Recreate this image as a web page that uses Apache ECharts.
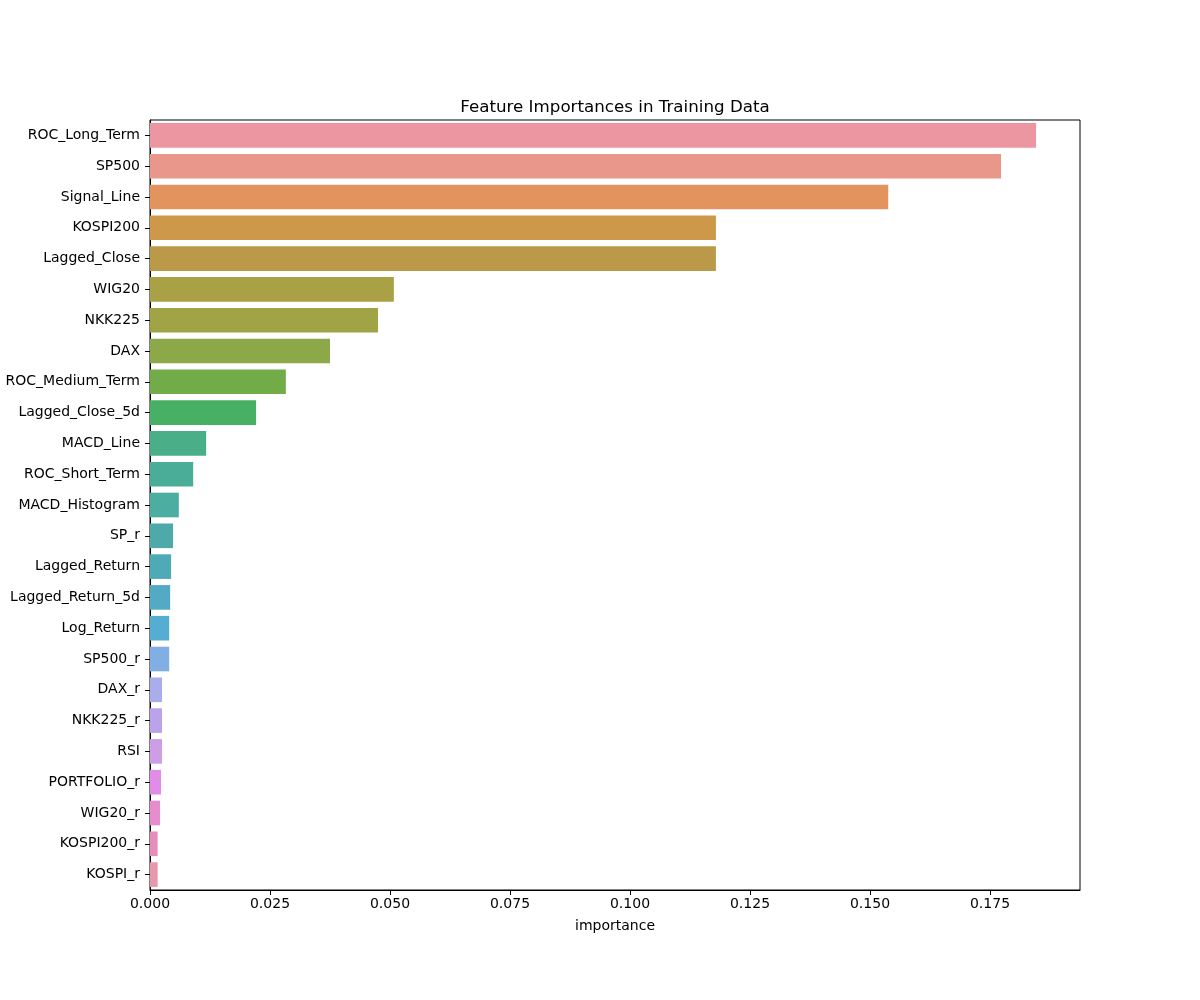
<!DOCTYPE html>
<html>
<head>
<meta charset="utf-8">
<script src="https://cdn.jsdelivr.net/npm/echarts@6/dist/echarts.min.js"></script>
<style>html,body{margin:0;padding:0;background:#fff;}#c{width:1200px;height:1000px;}</style>
</head>
<body>
<div id="c"></div>
<script>
var categories = ["ROC_Long_Term","SP500","Signal_Line","KOSPI200","Lagged_Close","WIG20","NKK225","DAX","ROC_Medium_Term","Lagged_Close_5d","MACD_Line","ROC_Short_Term","MACD_Histogram","SP_r","Lagged_Return","Lagged_Return_5d","Log_Return","SP500_r","DAX_r","NKK225_r","RSI","PORTFOLIO_r","WIG20_r","KOSPI200_r","KOSPI_r"];
var importance = [0.1846,0.1773,0.1538,0.1179,0.1179,0.0508,0.0475,0.0375,0.0283,0.0221,0.0117,0.0090,0.0060,0.0048,0.0044,0.0042,0.0040,0.0040,0.0025,0.0025,0.0025,0.0023,0.0021,0.0016,0.0016];
var colors = ["#eb96a1","#e8978a","#e3935e","#cd984a","#ba9a48","#aaa045","#a0a445","#8da848","#72ac48","#48b064","#4aae88","#4aad98","#4caea0","#4daaa8","#4eaab5","#52aac4","#56add3","#82afe3","#a9ade9","#baa3ea","#cd9ee6","#e18de8","#e68ccf","#e78dba","#e898ad"];
var xTicks = [0, 0.025, 0.05, 0.075, 0.1, 0.125, 0.15, 0.175];

var chart = echarts.init(document.getElementById('c'));
var font = 'DejaVu Sans';
chart.setOption({
  animation: false,
  title: {
    text: 'Feature Importances in Training Data',
    left: 610, top: 94, textAlign: 'center',
    textStyle: {fontFamily: font, fontSize: 16.7, fontWeight: 'normal', color: '#000'}
  },
  grid: {left: 150, right: 120, top: 120, bottom: 110, show: true, borderColor: '#000', borderWidth: 1, backgroundColor: 'transparent'},
  xAxis: {
    type: 'value', min: 0, max: 0.19375, interval: 0.025,
    name: 'importance', nameLocation: 'middle', nameGap: 29,
    nameTextStyle: {fontFamily: font, fontSize: 14, color: '#000'},
    axisLine: {show: true, lineStyle: {color: '#000', width: 1}},
    axisTick: {show: true, length: 5, lineStyle: {color: '#000'}},
    splitLine: {show: false},
    axisLabel: {
      fontFamily: font, fontSize: 14, color: '#000', margin: 7, showMaxLabel: false,
      formatter: function (v) {
        for (var i = 0; i < xTicks.length; i++) { if (Math.abs(xTicks[i] - v) < 1e-9) return xTicks[i].toFixed(3); }
        return '';
      }
    }
  },
  yAxis: {
    type: 'category', data: categories, inverse: true,
    axisLine: {show: true, lineStyle: {color: '#000', width: 1}},
    axisTick: {show: true, length: 5, alignWithLabel: true, lineStyle: {color: '#000'}},
    axisLabel: {fontFamily: font, fontSize: 14, color: '#000', margin: 10}
  },
  series: [{
    type: 'bar',
    data: importance.map(function (v, i) { return {value: v, itemStyle: {color: colors[i]}}; }),
    barCategoryGap: '20%'
  }]
});
</script>
</body>
</html>
